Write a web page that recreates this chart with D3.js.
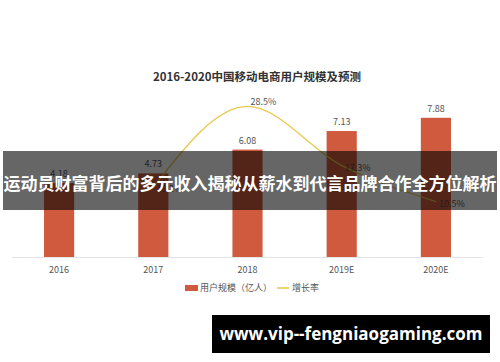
<!DOCTYPE html>
<html><head><meta charset="utf-8">
<script src="https://cdn.jsdelivr.net/npm/d3@7/dist/d3.min.js"></script>
<style>
html,body{margin:0;padding:0;background:#fff;}
svg{display:block;font-family:"Noto Sans CJK SC","Noto Sans",sans-serif;}
</style></head>
<body>
<svg id="c" width="500" height="362"></svg>
<script>
const categories = ["2016","2017","2018","2019E","2020E"];
const users = [4.18, 4.73, 6.08, 7.13, 7.88];
const growth = [null, 13.2, 28.5, 17.3, 10.5];
const title = "2016-2020中国移动电商用户规模及预测";
const legendLabels = ["用户规模（亿人）","增长率"];
const overlayText = "运动员财富背后的多元收入揭秘从薪水到代言品牌合作全方位解析";
const footerText = "www.vip--fengniaogaming.com";

const svg = d3.select("#c");
const barColor = "#d05a3d", lineColor = "#e8c84a";

svg.append("text").attr("x",257).attr("y",81).attr("text-anchor","middle")
  .attr("font-size",11.5).attr("font-weight","bold").attr("fill","#333").text(title);

const x = d3.scaleBand().domain(categories).range([12,483]).paddingInner(0.68).paddingOuter(0.34);
const y = d3.scaleLinear().domain([0,9]).range([257,98]);
const y2 = d3.scaleLinear().domain([0,30]).range([257,98.5]);

svg.append("line").attr("x1",12).attr("x2",483).attr("y1",257.5).attr("y2",257.5)
  .attr("stroke","#e3e3e3").attr("stroke-width",1);

svg.selectAll("rect.bar").data(users).join("rect").attr("class","bar")
  .attr("x",(d,i)=>x(categories[i])).attr("width",x.bandwidth())
  .attr("y",d=>y(d)).attr("height",d=>y(0)-y(d)).attr("fill",barColor);

svg.selectAll("text.bl").data(users).join("text").attr("class","bl")
  .attr("x",(d,i)=>x(categories[i])+x.bandwidth()/2).attr("y",d=>y(d)-6)
  .attr("text-anchor","middle").attr("font-size",9).attr("fill","#555").text(d=>d.toFixed(2));

svg.selectAll("text.xt").data(categories).join("text").attr("class","xt")
  .attr("x",d=>x(d)+x.bandwidth()/2).attr("y",273).attr("text-anchor","middle")
  .attr("font-size",9).attr("fill","#555").text(d=>d);

const pts = growth.map((g,i)=>({g,c:categories[i]})).filter(d=>d.g!==null);
const maxG = d3.max(pts, d=>d.g);
const line = d3.line().x(d=>x(d.c)+x.bandwidth()/2).y(d=>y2(d.g)).curve(d3.curveMonotoneX);
svg.append("path").datum(pts).attr("d",line).attr("fill","none")
  .attr("stroke",lineColor).attr("stroke-width",1.3);

svg.selectAll("text.gl").data(pts).join("text").attr("class","gl")
  .attr("x",d=>x(d.c)+x.bandwidth()/2+16).attr("y",d=>y2(d.g)+(d.g===maxG?-1:5))
  .attr("text-anchor","middle").attr("font-size",9).attr("fill","#555")
  .text(d=>d.g.toFixed(1)+"%");

// overlay band (drawn over the chart)
svg.append("rect").attr("x",3).attr("y",151).attr("width",494).attr("height",59).attr("fill","rgba(0,0,0,0.6)");
svg.append("text").attr("x",250).attr("y",190).attr("text-anchor","middle")
  .attr("font-size",17).attr("font-weight","bold").attr("fill","#fff").text(overlayText);

// legend
const lg = svg.append("g");
lg.append("rect").attr("x",185).attr("y",285).attr("width",13).attr("height",6).attr("fill",barColor);
lg.append("text").attr("x",200).attr("y",291).attr("font-size",9).attr("fill","#555").text(legendLabels[0]);
lg.append("line").attr("x1",277).attr("x2",289).attr("y1",288).attr("y2",288).attr("stroke",lineColor).attr("stroke-width",1.5);
lg.append("text").attr("x",292).attr("y",291).attr("font-size",9).attr("fill","#555").text(legendLabels[1]);

// footer box
svg.append("rect").attr("x",212).attr("y",315).attr("width",278).attr("height",38).attr("fill","#000");
svg.append("text").attr("x",351).attr("y",340).attr("text-anchor","middle")
  .attr("font-size",17).attr("font-weight","bold").attr("fill","#fff")
  .attr("font-family","'Open Sans','DejaVu Sans',sans-serif").text(footerText);
</script>
</body></html>
